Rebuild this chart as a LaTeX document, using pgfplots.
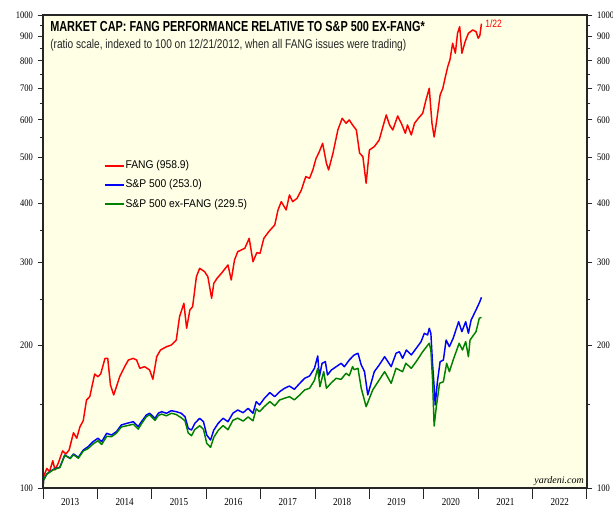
\documentclass[border=0pt]{standalone}
\usepackage{fontspec}
\usepackage{pgfplots}
\pgfplotsset{compat=1.18}
\setmainfont{Liberation Sans}
\newfontfamily\tickfont[FakeStretch=0.85]{Liberation Serif}
\newfontfamily\titlefont[FakeStretch=0.75]{Liberation Sans}
\newfontfamily\subfont[FakeStretch=0.8]{Liberation Sans}
\newfontfamily\legfont[FakeStretch=0.92]{Liberation Sans}
\newfontfamily\webfont{Liberation Serif}
\definecolor{bg}{RGB}{255,255,230}
\definecolor{fred}{RGB}{255,0,0}
\definecolor{sblue}{RGB}{0,0,255}
\definecolor{sgreen}{RGB}{0,128,0}

\pgfplotstableread{
year val
2013.00 100
2013.01 105.6
2013.07 110.0
2013.12 108.3
2013.18 114.2
2013.22 109.2
2013.28 112.8
2013.36 119.8
2013.42 118.0
2013.48 120.3
2013.56 130.9
2013.62 127.4
2013.68 134.8
2013.74 138.8
2013.80 153.5
2013.86 156.0
2013.95 174.2
2014.01 171.9
2014.06 174.2
2014.14 188.0
2014.19 188.0
2014.24 165.1
2014.30 157.3
2014.36 165.1
2014.41 171.9
2014.50 180.5
2014.57 186.5
2014.66 188.0
2014.72 186.5
2014.78 179.1
2014.87 180.5
2014.96 177.6
2015.02 169.8
2015.09 189.5
2015.16 195.8
2015.27 199.0
2015.36 200.6
2015.45 205.5
2015.51 230.3
2015.59 245.8
2015.64 217.6
2015.70 237.9
2015.75 241.7
2015.82 279.8
2015.88 291.4
2015.97 286.7
2016.03 279.8
2016.10 251.8
2016.14 270.9
2016.20 277.6
2016.28 284.4
2016.40 296.2
2016.46 275.3
2016.52 303.4
2016.58 316.0
2016.71 321.2
2016.79 337.2
2016.86 300.9
2016.93 314.4
2016.99 313.5
2017.06 337.2
2017.15 348.3
2017.26 359.9
2017.32 387.1
2017.38 403.1
2017.47 387.1
2017.53 416.4
2017.59 403.1
2017.67 409.7
2017.75 426.7
2017.83 455.2
2017.90 451.7
2017.96 470.3
2018.02 497.8
2018.08 514.2
2018.14 535.6
2018.21 485.9
2018.25 470.3
2018.33 510.2
2018.42 571.4
2018.50 604.9
2018.57 590.4
2018.63 599.9
2018.69 585.5
2018.76 571.4
2018.82 510.2
2018.88 501.8
2018.94 440.8
2019.00 518.4
2019.09 526.8
2019.18 544.2
2019.24 576.1
2019.31 614.8
2019.37 585.5
2019.43 571.4
2019.52 611.7
2019.60 585.5
2019.66 562.3
2019.70 585.5
2019.77 557.7
2019.83 590.4
2019.90 604.9
2019.98 619.9
2020.04 661.3
2020.10 700.0
2020.15 590.4
2020.19 552.3
2020.23 590.4
2020.30 677.6
2020.35 700.0
2020.39 734.9
2020.44 777.7
2020.48 803.4
2020.53 871.6
2020.58 830.1
2020.62 915.0
2020.66 944.9
2020.70 830.1
2020.76 878.5
2020.82 915.0
2020.90 929.8
2020.96 922.3
2021.00 893.0
2021.03 905.0
2021.06 958.9
}\fang

\pgfplotstableread{
year val
2013.00 100
2013.01 104.0
2013.07 107.1
2013.19 109.5
2013.31 110.6
2013.40 117.4
2013.50 115.6
2013.56 118.0
2013.65 116.1
2013.74 120.3
2013.83 122.3
2013.92 125.3
2014.01 127.4
2014.08 125.3
2014.17 130.5
2014.26 129.4
2014.35 131.6
2014.44 135.9
2014.54 137.0
2014.66 138.1
2014.75 134.8
2014.81 138.1
2014.90 142.7
2014.96 143.9
2015.06 140.4
2015.12 143.9
2015.18 145.0
2015.27 143.9
2015.36 145.7
2015.45 145.0
2015.54 143.9
2015.61 141.5
2015.67 133.7
2015.73 132.6
2015.79 137.0
2015.88 140.4
2015.95 138.1
2016.01 129.4
2016.08 126.3
2016.14 132.6
2016.22 137.0
2016.31 140.4
2016.40 138.1
2016.49 143.9
2016.58 146.2
2016.68 144.3
2016.77 147.4
2016.86 143.9
2016.92 152.3
2016.98 149.8
2017.07 154.8
2017.17 159.1
2017.26 156.0
2017.35 159.8
2017.44 162.5
2017.53 164.3
2017.62 161.7
2017.72 166.5
2017.81 170.6
2017.90 172.5
2017.99 179.1
2018.05 190.2
2018.08 171.9
2018.13 183.5
2018.19 185.0
2018.23 173.4
2018.30 177.6
2018.39 180.5
2018.48 183.5
2018.54 180.5
2018.63 186.5
2018.72 191.1
2018.79 192.7
2018.85 182.0
2018.91 176.2
2018.97 157.3
2019.03 166.5
2019.09 176.2
2019.18 182.0
2019.28 189.5
2019.34 185.0
2019.40 180.5
2019.49 192.7
2019.55 194.2
2019.61 188.0
2019.68 195.8
2019.77 191.1
2019.86 197.4
2019.95 203.9
2020.01 212.4
2020.07 210.6
2020.10 217.6
2020.13 212.4
2020.16 183.5
2020.19 163.8
2020.21 149.8
2020.25 167.8
2020.30 185.0
2020.36 186.5
2020.41 205.5
2020.47 199.0
2020.54 207.3
2020.64 224.7
2020.70 214.1
2020.77 224.7
2020.82 212.4
2020.87 226.6
2020.96 237.9
2021.03 247.7
2021.06 253.0
}\spx

\pgfplotstableread{
year val
2013.00 100
2013.01 103.9
2013.07 107.0
2013.19 109.3
2013.31 110.5
2013.40 117.3
2013.50 115.4
2013.56 117.6
2013.65 115.6
2013.74 119.7
2013.83 121.2
2013.92 123.9
2014.01 125.9
2014.08 123.6
2014.17 128.6
2014.26 128.4
2014.35 130.6
2014.44 134.6
2014.54 135.4
2014.66 136.4
2014.75 133.2
2014.81 136.7
2014.90 141.5
2014.96 142.8
2015.06 139.0
2015.12 142.3
2015.18 143.3
2015.27 142.1
2015.36 143.9
2015.45 143.0
2015.54 140.8
2015.61 138.7
2015.67 130.7
2015.73 129.0
2015.79 132.9
2015.88 135.4
2015.95 133.1
2016.01 124.3
2016.08 121.9
2016.14 128.0
2016.22 132.3
2016.31 135.5
2016.40 132.8
2016.49 139.0
2016.58 140.5
2016.68 138.5
2016.77 141.3
2016.86 138.7
2016.92 147.0
2016.98 145.0
2017.07 148.7
2017.17 152.3
2017.26 149.2
2017.35 153.5
2017.44 154.8
2017.53 156.0
2017.62 153.6
2017.72 157.3
2017.81 161.2
2017.90 162.5
2017.99 168.9
2018.05 179.1
2018.09 163.8
2018.16 176.2
2018.21 162.5
2018.30 166.9
2018.39 170.6
2018.48 169.7
2018.57 174.8
2018.63 172.8
2018.69 180.5
2018.72 177.9
2018.79 179.1
2018.85 162.5
2018.94 148.6
2019.06 161.1
2019.18 169.2
2019.28 176.2
2019.40 166.5
2019.49 179.1
2019.61 176.2
2019.67 183.5
2019.77 179.1
2019.86 185.0
2019.98 194.2
2020.10 202.3
2020.13 195.8
2020.16 170.0
2020.19 135.2
2020.23 148.6
2020.29 166.5
2020.36 167.8
2020.42 183.5
2020.47 176.2
2020.54 186.5
2020.65 202.3
2020.71 195.8
2020.77 203.9
2020.82 189.5
2020.85 205.5
2020.96 214.1
2021.02 228.5
2021.06 229.5
}\spxex

\begin{document}
\begin{tikzpicture}
\path[use as bounding box] (-32.25pt,-18pt) rectangle (427.5pt,366pt);
\begin{axis}[
  at={(0,0)}, anchor=south west,
  scale only axis, width=408pt, height=354.75pt,
  ymode=log, ymin=100, ymax=1000,
  xmin=2013, xmax=2023,
  axis background/.style={fill=bg},
  axis line style={line width=1pt, black!85},
  xtick={2013,...,2023},
  xticklabels={2013,2014,2015,2016,2017,2018,2019,2020,2021,2022},
  x tick label as interval,
  xtick pos=bottom,
  ytick={100,200,300,400,500,600,700,800,900,1000},
  yticklabels={100,200,300,400,500,600,700,800,900,1000},
  minor ytick={150,250,350,450,550,650,750,850,950},
  ytick pos=left,
  tick align=outside,
  major tick length=4pt, minor tick length=2.5pt,
  xtick style={/pgfplots/major tick length=8pt},
  tick style={black!85, line width=0.7pt},
  ticklabel style={font=\tickfont\fontsize{7.5}{9}\selectfont},
  xticklabel style={yshift=-0.5pt, font=\tickfont\fontsize{8}{9}\selectfont},
  /pgf/number format/assume math mode=true,
  legend style={at={(rel axis cs:0.104,0.7005)}, anchor=north west, draw=none, fill=none,
    font=\legfont\fontsize{8.4}{10}\selectfont, row sep=5.2pt,
    nodes={inner sep=0.8pt}},
  legend cell align=left,
  legend image code/.code={\draw[#1, line width=1.5pt] (0pt,0pt) -- (14pt,0pt);},
]
\addplot[fred, line width=1.1pt, line join=round] table {\fang};
\addlegendentry{FANG (958.9)}
\addplot[sblue, line width=1.1pt, line join=round] table {\spx};
\addlegendentry{S\&P 500 (253.0)}
\addplot[sgreen, line width=1.1pt, line join=round] table {\spxex};
\addlegendentry{S\&P 500 ex-FANG (229.5)}
\node[anchor=base west, inner sep=0, font=\titlefont\bfseries\fontsize{10.9}{12}\selectfont]
  at (rel axis cs:0.0129,0.966) {MARKET CAP: FANG PERFORMANCE RELATIVE TO S\&P 500 EX-FANG*};
\node[anchor=base west, inner sep=0, font=\subfont\fontsize{9.5}{11}\selectfont, text=black!85]
  at (rel axis cs:0.0129,0.93) {(ratio scale, indexed to 100 on 12/21/2012, when all FANG issues were trading)};
\node[anchor=base west, inner sep=0, font=\subfont\fontsize{8}{9}\selectfont, text=fred]
  at (rel axis cs:0.8125,0.9725) {1/22};
\node[anchor=base east, inner sep=0, font=\webfont\itshape\fontsize{7.5}{9}\selectfont]
  at (rel axis cs:0.9945,0.0085) {yardeni.com};
\end{axis}
\begin{axis}[
  at={(0,0)}, anchor=south west,
  scale only axis, width=408pt, height=354.75pt,
  ymode=log, ymin=100, ymax=1000,
  xmin=2013, xmax=2023,
  hide x axis,
  axis line style={line width=1pt, black!85},
  ytick={100,200,300,400,500,600,700,800,900,1000},
  yticklabels={100,200,300,400,500,600,700,800,900,1000},
  minor ytick={150,250,350,450,550,650,750,850,950},
  ytick pos=right, yticklabel pos=right,
  tick align=outside,
  major tick length=4pt, minor tick length=2.5pt,
  tick style={black!85, line width=0.7pt},
  ticklabel style={font=\tickfont\fontsize{7.5}{9}\selectfont},
  /pgf/number format/assume math mode=true,
]
\end{axis}
\end{tikzpicture}
\end{document}
